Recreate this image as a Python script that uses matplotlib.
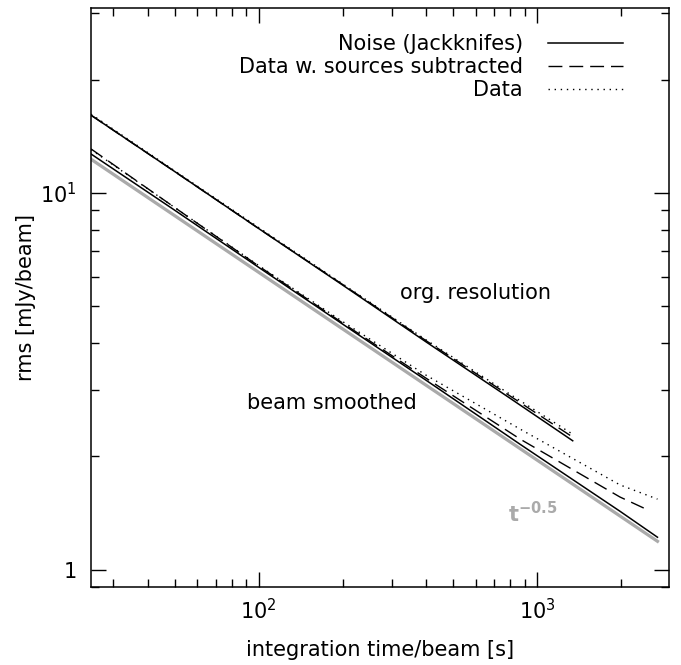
import matplotlib

matplotlib.use("Agg")

import matplotlib.pyplot as plt

# org. resolution curves
org_time = [25, 50, 100, 200, 400, 800, 1340]
org_noise = [16.1, 11.4, 8.05, 5.7, 4.02, 2.85, 2.2]
org_subtracted = [16.1, 11.4, 8.05, 5.72, 4.05, 2.89, 2.25]
org_data = [16.2, 11.45, 8.1, 5.74, 4.07, 2.92, 2.29]

# beam smoothed curves
beam_time = [25, 50, 100, 200, 400, 870, 1980, 2700]
beam_noise = [12.7, 9.0, 6.35, 4.49, 3.18, 2.15, 1.43, 1.22]
beam_sub_time = [25, 50, 100, 200, 400, 870, 1980, 2500]
beam_subtracted = [13.1, 9.15, 6.4, 4.52, 3.22, 2.22, 1.56, 1.44]
beam_data = [13.05, 9.15, 6.42, 4.56, 3.28, 2.36, 1.68, 1.54]

# t^-0.5 reference
ref_time = [25, 2700]
ref_rms = [12.3, 1.19]

LEGEND_LABELS = ["Noise (Jackknifes)", "Data w. sources subtracted", "Data"]
GRAY = "#aaaaaa"
FONT = 15

DASHED = (0, (10, 5))
DOTTED = (0, (1, 3.4))

fig = plt.figure(figsize=(6.81, 6.65), dpi=100, facecolor="white")
ax = fig.add_axes([0.1336, 0.1173, 0.8488, 0.8707])

ax.plot(ref_time, ref_rms, color=GRAY, linewidth=2.3)

ax.plot(org_time, org_noise, color="black", linewidth=1.1, label=LEGEND_LABELS[0])
ax.plot(org_time, org_subtracted, color="black", linewidth=1.0, linestyle=DASHED,
        label=LEGEND_LABELS[1])
ax.plot(org_time, org_data, color="black", linewidth=1.0, linestyle=DOTTED,
        label=LEGEND_LABELS[2])

ax.plot(beam_time, beam_noise, color="black", linewidth=1.1)
ax.plot(beam_sub_time, beam_subtracted, color="black", linewidth=1.0, linestyle=DASHED)
ax.plot(beam_time, beam_data, color="black", linewidth=1.0, linestyle=DOTTED)

ax.set_xscale("log")
ax.set_yscale("log")
ax.set_xlim(25, 2970)
ax.set_ylim(0.9, 31)

ax.set_xticks([100, 1000])
ax.set_xticklabels([r"$10^2$", r"$10^3$"])
ax.set_yticks([1, 10])
ax.set_yticklabels(["1", r"$10^1$"])

ax.tick_params(which="both", direction="in", top=True, right=True, width=1.0,
               labelsize=FONT)
ax.tick_params(which="major", length=11)
ax.tick_params(which="minor", length=5.5)
ax.tick_params(axis="x", which="major", pad=8)
ax.tick_params(axis="y", which="major", pad=10)
for spine in ax.spines.values():
    spine.set_linewidth(1.1)

ax.set_xlabel("integration time/beam [s]", fontsize=FONT, labelpad=12)
ax.set_ylabel("rms [mJy/beam]", fontsize=FONT, labelpad=3)

ax.text(0.666, 0.508, "org. resolution", transform=ax.transAxes, fontsize=FONT,
        ha="center", va="center")
ax.text(0.417, 0.318, "beam smoothed", transform=ax.transAxes, fontsize=FONT,
        ha="center", va="center")
ax.text(0.7215, 0.112, r"$\mathbf{t^{-0.5}}$", transform=ax.transAxes,
        fontsize=FONT, color=GRAY, ha="left", va="baseline")

ax.legend(loc="upper right", bbox_to_anchor=(0.92, 0.955), frameon=False,
          markerfirst=False, fontsize=FONT, handlelength=3.6, handletextpad=1.2,
          labelspacing=0.15, borderaxespad=0, borderpad=0)

fig.savefig("out.png", dpi=100)
